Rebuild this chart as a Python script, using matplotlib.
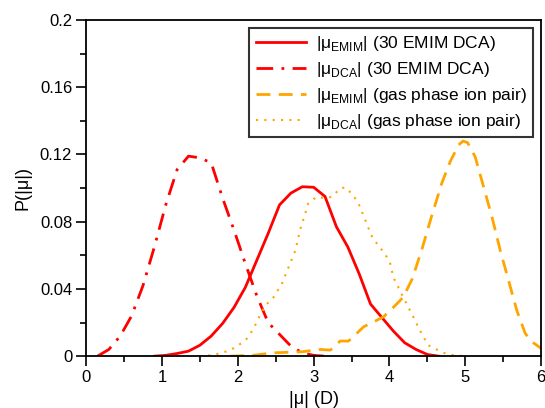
import numpy as np
import matplotlib
matplotlib.use('Agg')
import matplotlib.pyplot as plt
from matplotlib.ticker import MultipleLocator

plt.rcParams['font.family'] = ['Liberation Sans', 'DejaVu Sans']
plt.rcParams['mathtext.fontset'] = 'custom'
plt.rcParams['mathtext.rm'] = 'Liberation Sans'

# |mu_EMIM| in 30 EMIM DCA (solid red)
emim_liq_x = [0.9, 1.05, 1.2, 1.35, 1.5, 1.65, 1.8, 1.95, 2.1, 2.25, 2.4, 2.55, 2.7, 2.85,
              3.0, 3.15, 3.3, 3.45, 3.6, 3.75, 3.9, 4.05, 4.2, 4.35, 4.5, 4.65]
emim_liq_y = [0.0, 0.0005, 0.0016, 0.003, 0.0065, 0.012, 0.0195, 0.029, 0.041, 0.057, 0.073,
              0.090, 0.097, 0.1008, 0.1005, 0.095, 0.077, 0.065, 0.049, 0.031, 0.023, 0.015,
              0.008, 0.004, 0.001, 0.0]

# |mu_DCA| in 30 EMIM DCA (dash-dot red)
dca_liq_x = [0.15, 0.3, 0.45, 0.6, 0.75, 0.9, 1.05, 1.2, 1.35, 1.5, 1.65, 1.8, 1.95, 2.1,
             2.25, 2.4, 2.55, 2.7, 2.85, 3.0, 3.15]
dca_liq_y = [0.0, 0.004, 0.012, 0.024, 0.042, 0.065, 0.09, 0.111, 0.119, 0.118, 0.115, 0.094,
             0.075, 0.055, 0.036, 0.02, 0.013, 0.006, 0.002, 0.0005, 0.0]

# |mu_EMIM| gas phase ion pair (dashed orange)
emim_gas_x = [1.9, 2.2, 2.47, 2.84, 3.09, 3.22, 3.35, 3.46, 3.66, 3.79, 3.92, 4.05, 4.18,
              4.3, 4.43, 4.56, 4.69, 4.8, 4.91, 4.97, 5.03, 5.13, 5.24, 5.35, 5.46, 5.57,
              5.68, 5.79, 5.88, 6.0]
emim_gas_y = [0.0, 0.0005, 0.002, 0.0026, 0.004, 0.0036, 0.009, 0.009, 0.0175, 0.0204,
              0.0234, 0.029, 0.035, 0.046, 0.064, 0.084, 0.103, 0.1157, 0.1256, 0.128, 0.127,
              0.1186, 0.1008, 0.083, 0.063, 0.045, 0.027, 0.0135, 0.0085, 0.0046]

# |mu_DCA| gas phase ion pair (dotted orange)
dca_gas_x = [1.5, 1.66, 1.79, 1.9, 2.01, 2.12, 2.21, 2.27, 2.36, 2.47, 2.58, 2.67, 2.76,
             2.82, 2.89, 2.93, 3.04, 3.15, 3.24, 3.35, 3.42, 3.52, 3.59, 3.68, 3.77, 3.85,
             3.94, 4.01, 4.05, 4.16, 4.25, 4.34, 4.4, 4.51, 4.71, 4.85, 5.0]
dca_gas_y = [0.0, 0.0006, 0.002, 0.0036, 0.0065, 0.0105, 0.0165, 0.0224, 0.030, 0.035,
             0.043, 0.053, 0.063, 0.075, 0.085, 0.091, 0.0948, 0.094, 0.0948, 0.0998, 0.1004,
             0.0958, 0.091, 0.081, 0.071, 0.066, 0.061, 0.055, 0.047, 0.037, 0.029, 0.021,
             0.0155, 0.0065, 0.002, 0.0005, 0.0]

red = '#ff0000'
orange = '#ffa500'

fig = plt.figure(figsize=(5.45, 4.08), dpi=100)
ax = fig.add_axes([0.158, 0.127, 0.835, 0.824])

ax.plot(emim_liq_x, emim_liq_y, color=red, lw=2.0, ls='-',
        label=r'|μ$_{\rm EMIM}$| (30 EMIM DCA)')
ax.plot(dca_liq_x, dca_liq_y, color=red, lw=2.0, ls=(0, (6, 3, 1, 3)),
        label=r'|μ$_{\rm DCA}$| (30 EMIM DCA)')
ax.plot(emim_gas_x, emim_gas_y, color=orange, lw=2.0, ls=(0, (5, 3)),
        label=r'|μ$_{\rm EMIM}$| (gas phase ion pair)')
ax.plot(dca_gas_x, dca_gas_y, color=orange, lw=1.5, ls=(0, (1, 3)),
        label=r'|μ$_{\rm DCA}$| (gas phase ion pair)')

ax.set_xlim(0, 6)
ax.set_ylim(0, 0.2)
ax.xaxis.set_major_locator(MultipleLocator(1))
ax.xaxis.set_minor_locator(MultipleLocator(0.5))
ax.yaxis.set_minor_locator(MultipleLocator(0.02))
ax.set_yticks([0, 0.04, 0.08, 0.12, 0.16, 0.2])
ax.set_yticklabels(['0', '0.04', '0.08', '0.12', '0.16', '0.2'])
ax.tick_params(which='major', direction='out', length=7, width=1.2, labelsize=12, pad=3)
ax.tick_params(which='minor', direction='out', length=4.5, width=1.2)
for s in ax.spines.values():
    s.set_linewidth(1.3)

ax.set_xlabel('|μ| (D)', fontsize=13, labelpad=4)
ax.set_ylabel('P(|μ|)', fontsize=13, labelpad=6)

leg = ax.legend(loc='upper right', fontsize=12.5, frameon=True, fancybox=False,
                edgecolor='black', handlelength=2.9, borderpad=0.35, labelspacing=0.4,
                handletextpad=0.6, borderaxespad=0,
                bbox_to_anchor=(1 - 8 / 455, 1 - 8 / 336))
leg.get_frame().set_linewidth(1.5)

fig.savefig('out.png', dpi=100)
